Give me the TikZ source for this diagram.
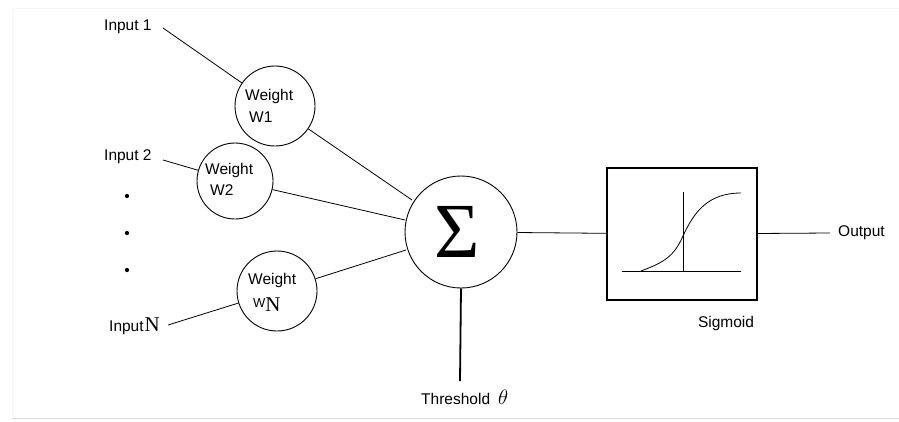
\documentclass[tikz,border=0pt]{standalone}
\usepackage{fontspec}
\setmainfont{Liberation Sans}
\newfontfamily\serifN{Liberation Serif}
\begin{document}
\begin{tikzpicture}[x=1pt,y=-1pt,
  lbl/.style={font=\fontsize{15.5}{15.5}\selectfont, inner sep=0pt},
  wcirc/.style={draw, circle, line width=0.9pt},
  conn/.style={line width=0.8pt}]
\useasboundingbox (0,0) rectangle (899,421);
\fill[white] (0,0) rectangle (899,421);
\draw[gray!6, line width=1pt] (12,8) -- (899,8);
\draw[gray!6, line width=1pt] (12,8) -- (12,417);
\draw[gray!30, line width=1.2pt] (12,418.5) -- (899,418.5);

% inputs
\node[lbl, anchor=west] (in1) at (104,27) {Input 1};
\node[lbl, anchor=west] (in2) at (104,157) {Input 2};
\node[lbl, anchor=west] (inN) at (109,326) {Input\hspace{1pt}{\serifN\fontsize{21}{21}\selectfont N}};
\node[circle, fill, inner sep=1.5pt] (d1) at (127,196) {};
\node[circle, fill, inner sep=1.5pt] (d2) at (127,233) {};
\node[circle, fill, inner sep=1.5pt] (d3) at (127,270) {};

% weight circles
\node[wcirc, minimum size=80pt] (w1) at (275,106) {};
\node[wcirc, minimum size=76pt] (w2) at (235,181) {};
\node[wcirc, minimum size=80pt] (wN) at (277,291) {};
\node[lbl, anchor=west] (w1a) at (245,96) {Weight};
\node[lbl, anchor=west] (w1b) at (249,117) {W1};
\node[lbl, anchor=west] (w2a) at (205,170) {Weight};
\node[lbl, anchor=west] (w2b) at (210,190) {W2};
\node[lbl, anchor=west] (wNa) at (248,280) {Weight};
\node[lbl, anchor=west] (wNb) at (253,305) {\fontsize{13}{13}\selectfont W\raisebox{-4pt}{\serifN\fontsize{21}{21}\selectfont N}};

% summation
\node[wcirc, minimum size=112pt] (sum) at (461,232) {};
\node[inner sep=0pt] (sig) at (457,232) {\serifN\fontsize{78}{78}\selectfont Σ};

% sigmoid box
\node[draw, line width=1.1pt, minimum width=150pt, minimum height=132pt, inner sep=0pt] (box) at (682,234) {};
\coordinate (ax1) at (622,271);
\coordinate (ax2) at (741,271);
\coordinate (vt) at (683,192);
\coordinate (vb) at (683,271);
\draw[conn] (ax1) -- (ax2);
\draw[conn] (vt) -- (vb);
\draw[conn] (641,271) .. controls (665,262) and (674,256) .. (683,236)
  .. controls (694,212) and (708,193) .. (741,193);
\node[lbl] (sigl) at (726,323) {Sigmoid};

% output
\node[lbl, anchor=west] (out) at (838,233) {Output};
\coordinate (oute) at (830,233);

% threshold
\node[lbl, anchor=west] (thr) at (421,397) {Threshold\hspace{8pt}{\fontsize{21}{21}\selectfont$\theta$}};
\coordinate (thrt) at (460,381);

% connectors
\draw[conn] (163,28) -- (w1);
\draw[conn] (163,160) -- (w2);
\draw[conn] (168,325) -- (wN);
\draw[conn] (w1) -- (412,200);
\draw[conn] (w2) -- (405,220);
\draw[conn] (wN) -- (406,250);
\draw[conn] (sum) -- (box);
\draw[conn] (box) -- (oute);
\draw[line width=1.8pt] (sum.south) -- (thrt);
\end{tikzpicture}
\end{document}
